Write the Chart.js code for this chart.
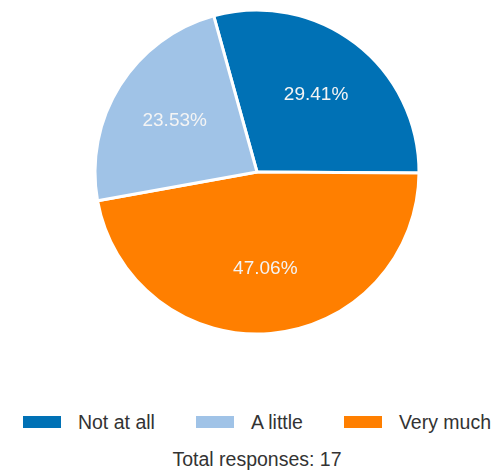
<!DOCTYPE html>
<html>
<head>
<meta charset="utf-8">
<script src="https://cdn.jsdelivr.net/npm/chart.js@4"></script>
<style>
    html, body { margin: 0; padding: 0; background: #fff; }
    #wrap {
        width: 497px; height: 471px; position: relative;
        font-family: "Liberation Sans", Arial, sans-serif; color: #333;
    }
    #pie { position: absolute; left: 0; top: 0; width: 497px; height: 344px; }
    #legend {
        position: absolute; left: 17px; top: 410px; width: 480px; height: 24px;
        margin: 0; padding: 0; list-style: none;
        display: flex; justify-content: center; align-items: center;
        font-size: 19.5px; line-height: 24px; white-space: nowrap;
    }
    #legend li { display: flex; align-items: center; margin-right: 41px; }
    #legend li:last-child { margin-right: 0; }
    #legend .box { display: inline-block; width: 38px; height: 12px; margin-right: 17px; }
    #total {
        position: absolute; left: 17px; top: 447px; width: 480px;
        text-align: center; font-size: 19.5px; line-height: 24px;
    }
</style>
</head>
<body>
<div id="wrap">
    <div id="pie"><canvas id="answers"></canvas></div>
    <ul id="legend"></ul>
    <div id="total"></div>
</div>
<script>
// Ответы на вопрос (в порядке секторов по часовой стрелке)
const categories = ['Not at all', 'Very much', 'A little'];
const responses = [5, 8, 4];
const sliceColors = ['#0071b5', '#ff7f00', '#a0c3e7'];
// Порядок в легенде
const legendOrder = ['Not at all', 'A little', 'Very much'];
const totalResponses = responses.reduce((a, b) => a + b, 0);

// Подписи процентов внутри секторов
const percentLabels = {
    id: 'percentLabels',
    afterDatasetsDraw(chart) {
        const ctx = chart.ctx;
        const meta = chart.getDatasetMeta(0);
        ctx.save();
        ctx.font = '19px "Liberation Sans", Arial, sans-serif';
        ctx.fillStyle = '#f4f4f4';
        ctx.textAlign = 'center';
        ctx.textBaseline = 'middle';
        meta.data.forEach((arc, i) => {
            const p = arc.getProps(['x', 'y', 'startAngle', 'endAngle', 'outerRadius'], true);
            const mid = (p.startAngle + p.endAngle) / 2;
            const r = p.outerRadius * 0.6;
            const pct = (responses[i] / totalResponses * 100).toFixed(2) + '%';
            ctx.fillText(pct, p.x + Math.cos(mid) * r, p.y + Math.sin(mid) * r);
        });
        ctx.restore();
    }
};

// HTML-легенда из элементов, которые строит сам Chart.js
const htmlLegend = {
    id: 'htmlLegend',
    afterUpdate(chart) {
        const list = document.getElementById('legend');
        list.innerHTML = '';
        const items = chart.options.plugins.legend.labels.generateLabels(chart);
        items.sort((a, b) => legendOrder.indexOf(a.text) - legendOrder.indexOf(b.text));
        items.forEach(item => {
            const li = document.createElement('li');
            const box = document.createElement('span');
            box.className = 'box';
            box.style.background = item.fillStyle;
            const text = document.createElement('span');
            text.textContent = item.text;
            li.append(box, text);
            list.appendChild(li);
        });
        document.getElementById('total').textContent = 'Total responses: ' + totalResponses;
    }
};

new Chart(document.getElementById('answers'), {
    type: 'pie',
    data: {
        labels: categories,
        datasets: [{
            data: responses,
            backgroundColor: sliceColors,
            borderColor: '#ffffff',
            borderWidth: 3
        }]
    },
    options: {
        responsive: true,
        maintainAspectRatio: false,
        animation: false,
        rotation: -15.5,
        radius: 162,
        layout: {
            padding: { top: 0, left: 17, right: 0, bottom: 0 }
        },
        plugins: {
            tooltip: { enabled: false },
            legend: { display: false }
        }
    },
    plugins: [percentLabels, htmlLegend]
});
</script>
</body>
</html>
